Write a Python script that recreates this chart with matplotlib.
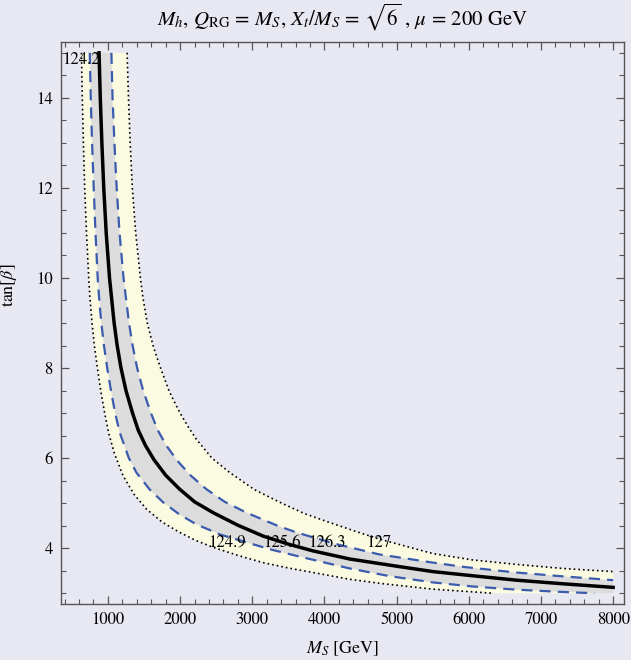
import matplotlib
matplotlib.use("Agg")
import matplotlib.pyplot as plt
from matplotlib.ticker import MultipleLocator

plt.rcParams["font.family"] = ["STIXGeneral", "DejaVu Serif"]
plt.rcParams["mathtext.fontset"] = "stix"

# contour lines of M_h (GeV): M_S [GeV] vs tan(beta)
ms_1242 = [633, 645, 660, 678, 703, 734, 750, 780, 812, 850, 900, 955, 1008, 1090, 1209,
           1360, 1533, 1750, 1994, 2220, 2456, 2800, 3148, 3500, 3841, 4349, 4765, 5503, 6334]
tb_1242 = [15.0, 14.0, 13.0, 12.0, 11.0, 10.0, 9.57, 9.0, 8.5, 8.05, 7.5, 7.0, 6.57, 6.1, 5.61,
           5.2, 4.87, 4.58, 4.35, 4.17, 4.02, 3.84, 3.68, 3.56, 3.46, 3.31, 3.22, 3.09, 3.0]

ms_1249 = [748, 762, 780, 803, 828, 858, 877, 908, 945, 990, 1042, 1100, 1163, 1290, 1394,
           1580, 1764, 1990, 2225, 2560, 2918, 3260, 3611, 4349, 4900, 5503, 6050, 6658, 7200, 7742]
tb_1249 = [15.0, 14.0, 13.0, 12.0, 11.0, 10.0, 9.57, 9.0, 8.5, 8.0, 7.5, 7.0, 6.57, 6.0, 5.68,
           5.3, 5.02, 4.75, 4.53, 4.3, 4.13, 3.97, 3.83, 3.55, 3.38, 3.24, 3.15, 3.08, 3.035, 3.0]

ms_1256 = [877, 894, 916, 942, 976, 1022, 1086, 1128, 1181, 1250, 1341, 1420, 1520, 1640, 1800,
           1994, 2200, 2456, 2800, 3148, 3500, 3841, 4349, 5000, 5503, 6100, 6658, 7300, 8000]
tb_1256 = [15.0, 14.0, 13.0, 12.0, 11.0, 10.0, 9.0, 8.5, 8.0, 7.5, 7.0, 6.62, 6.28, 5.96, 5.62,
           5.31, 5.03, 4.79, 4.51, 4.27, 4.09, 3.94, 3.76, 3.6, 3.48, 3.38, 3.29, 3.21, 3.13]

ms_1263 = [1048, 1064, 1090, 1121, 1161, 1216, 1292, 1342, 1405, 1488, 1596, 1690, 1809, 1952,
           2142, 2364, 2618, 2918, 3332, 3611, 4165, 4765, 5503, 5950, 6658, 7259, 8000]
tb_1263 = [15.0, 14.0, 13.0, 12.0, 11.0, 10.0, 9.0, 8.5, 8.0, 7.5, 7.0, 6.62, 6.28, 5.96,
           5.62, 5.31, 5.03, 4.79, 4.51, 4.35, 4.09, 3.86, 3.68, 3.58, 3.46, 3.38, 3.29]

ms_1270 = [1265, 1285, 1308, 1338, 1385, 1450, 1486, 1545, 1625, 1671, 1730, 1845, 1902, 2000,
           2110, 2225, 2440, 2687, 3030, 3380, 3720, 4072, 4420, 4765, 5503, 6050, 6658, 7300, 8000]
tb_1270 = [15.0, 14.0, 13.0, 12.0, 11.0, 10.0, 9.55, 9.0, 8.5, 8.27, 8.0, 7.5, 7.31, 7.0,
           6.7, 6.42, 6.0, 5.68, 5.3, 5.02, 4.77, 4.57, 4.38, 4.2, 3.88, 3.74, 3.64, 3.55, 3.48]

# plot domain
ms_range = (500, 8000)
tb_range = (3, 15)

# contour labels: text, M_S, tan(beta)
label_text = ["124.2", "124.9", "125.6", "126.3", "127"]
label_ms = [620, 2652, 3414, 4037, 4758]
label_tb = [14.84, 4.12, 4.12, 4.12, 4.12]

bg = "#E8E8F2"
yellow = "#FBFBE1"
grey = "#DCDCDC"
blue = "#3A5BAE"

fig = plt.figure(figsize=(6.31, 6.60), dpi=100, facecolor=bg)
ax = fig.add_axes([0.0967, 0.0848, 0.8922, 0.8516], facecolor=bg)

# bands: outer (yellow) between 124.2 and 127, inner (grey) between 124.9 and 126.3
ax.fill(ms_1242 + [ms_range[1]] + ms_1270[::-1],
        tb_1242 + [tb_range[0]] + tb_1270[::-1], color=yellow, lw=0, zorder=1)
ax.fill(ms_1249 + [ms_range[1]] + ms_1263[::-1],
        tb_1249 + [tb_range[0]] + tb_1263[::-1], color=grey, lw=0, zorder=2)

dots = (0, (1, 1.8))
dashes = (0, (5, 3.2))
ax.plot(ms_1242, tb_1242, color="black", lw=1.2, ls=dots, zorder=3)
ax.plot(ms_1270, tb_1270, color="black", lw=1.2, ls=dots, zorder=3)
ax.plot(ms_1249, tb_1249, color=blue, lw=1.6, ls=dashes, zorder=4)
ax.plot(ms_1263, tb_1263, color=blue, lw=1.6, ls=dashes, zorder=4)
ax.plot(ms_1256, tb_1256, color="black", lw=2.5, zorder=5)

for t, x, y in zip(label_text, label_ms, label_tb):
    ax.text(x, y, t, fontsize=12, ha="center", va="center", zorder=6)

pad_x = 0.02 * (ms_range[1] - ms_range[0])
pad_y = 0.02 * (tb_range[1] - tb_range[0])
ax.set_xlim(ms_range[0] - pad_x, ms_range[1] + pad_x)
ax.set_ylim(tb_range[0] - pad_y, tb_range[1] + pad_y)

ax.xaxis.set_major_locator(MultipleLocator(1000))
ax.xaxis.set_minor_locator(MultipleLocator(200))
ax.yaxis.set_major_locator(MultipleLocator(2))
ax.yaxis.set_minor_locator(MultipleLocator(0.5))
ax.tick_params(which="both", direction="in", top=True, right=True,
               color="#555555", labelsize=12, pad=6)
ax.tick_params(which="major", length=6, width=0.9)
ax.tick_params(which="minor", length=3.5, width=0.8)
for s in ax.spines.values():
    s.set_color("#555555")
    s.set_linewidth(1.0)

ax.set_xlabel(r"$M_S$ [GeV]", fontsize=13, labelpad=8)
ax.set_ylabel(r"tan[$\beta$]", fontsize=13, labelpad=8)
ax.yaxis.set_label_coords(-0.075, 0.568)
ax.set_title(r"$M_h$, $Q_{\rm RG}$ = $M_S$, $X_t/M_S$ = $\sqrt{6}$ , $\mu$ = 200 GeV",
             fontsize=15, pad=12)

fig.savefig("out.png", dpi=100, facecolor=bg)
